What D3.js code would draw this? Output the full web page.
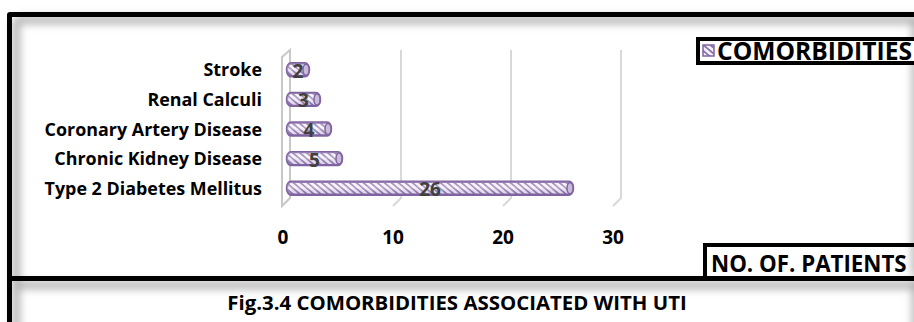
<!DOCTYPE html>
<html>
<head>
<meta charset="utf-8">
<script src="https://cdn.jsdelivr.net/npm/d3@7"></script>
<style>
  html, body { margin: 0; padding: 0; background: #fff; }
  svg { display: block; }
  text { font-family: "Open Sans", Lato, sans-serif; font-weight: bold; }
</style>
</head>
<body>
<svg id="chart" width="914" height="322"></svg>
<script>
// Comorbidities among UTI patients
const categories = ["Stroke", "Renal Calculi", "Coronary Artery Disease", "Chronic Kidney Disease", "Type 2 Diabetes Mellitus"];
const patients = [2, 3, 4, 5, 26];
const xTicks = [0, 10, 20, 30];
const seriesName = "COMORBIDITIES";
const axisTitle = "NO. OF. PATIENTS";
const caption = "Fig.3.4 COMORBIDITIES ASSOCIATED WITH UTI";

const W = 914, H = 322;
const purple = "#8064a2";
const svg = d3.select("#chart");
const defs = svg.append("defs");

// diagonal hatch used for the bars and the legend key
const pat = defs.append("pattern")
  .attr("id", "hatch").attr("patternUnits", "userSpaceOnUse")
  .attr("width", 4.5).attr("height", 4.5)
  .attr("patternTransform", "rotate(40)");
pat.append("rect").attr("width", 4.5).attr("height", 4.5).attr("fill", "#f4f0f9");
pat.append("rect").attr("width", 4.5).attr("height", 1.8).attr("fill", "#8d74ae");

// cylinder shading laid over the hatch
const cyl = defs.append("linearGradient").attr("id", "cyl").attr("x1", 0).attr("x2", 0).attr("y1", 0).attr("y2", 1);
cyl.append("stop").attr("offset", "0%").attr("stop-color", "#ffffff").attr("stop-opacity", 0.15);
cyl.append("stop").attr("offset", "45%").attr("stop-color", "#ffffff").attr("stop-opacity", 0.35);
cyl.append("stop").attr("offset", "100%").attr("stop-color", "#6a4f8f").attr("stop-opacity", 0.15);

defs.append("filter").attr("id", "soft").attr("x", "-20%").attr("y", "-20%").attr("width", "140%").attr("height", "140%")
  .append("feGaussianBlur").attr("stdDeviation", 4);

// soft grey shading inside the black frame lines
const shade = svg.append("g").attr("filter", "url(#soft)").attr("stroke", "#a8a8a8").attr("stroke-width", 7).attr("fill", "none");
shade.append("line").attr("x1", 16).attr("x2", W + 10).attr("y1", 20).attr("y2", 20);
shade.append("line").attr("x1", 16).attr("x2", 16).attr("y1", 20).attr("y2", H + 10);
shade.append("line").attr("x1", 16).attr("x2", W + 10).attr("y1", 285).attr("y2", 285);
shade.append("line").attr("x1", W + 2).attr("x2", W + 2).attr("y1", 280).attr("y2", H + 10);
shade.append("line").attr("x1", W + 2).attr("x2", W + 2).attr("y1", 18).attr("y2", 275);

// scales
const x = d3.scaleLinear().domain([0, 30]).range([283, 613]);
const y = d3.scaleBand().domain(categories).range([55, 203]);
const depth = 8;       // back-wall offset of the 3D plot area
const floorY = 206;

// back-wall gridlines with their floor returns
const grid = svg.append("g").attr("stroke", "#d9d9d9").attr("stroke-width", 2).attr("fill", "none");
xTicks.slice(1).forEach(t => {
  grid.append("path").attr("d", `M${x(t) + depth},${50} L${x(t) + depth},${floorY - depth} L${x(t)},${floorY}`);
});
// left side wall
grid.append("path").attr("stroke", "#c8c8c8")
  .attr("d", `M${x(0) - 1},${57} L${x(0) + depth - 1},${50} L${x(0) + depth - 1},${floorY - depth} L${x(0) - 1},${floorY} Z`)
  .attr("fill", "#ffffff");

// cylinder bars
const bh = 13, off = depth / 2;
const bars = svg.append("g");
categories.forEach((c, i) => {
  const cy = y(c) + y.bandwidth() / 2;
  const x0 = x(0) + off, x1 = x(patients[i]) + off;
  bars.append("rect")
    .attr("x", x0).attr("y", cy - bh / 2)
    .attr("width", x1 - x0).attr("height", bh)
    .attr("rx", 4).attr("ry", 6)
    .attr("fill", "url(#hatch)")
    .attr("stroke", purple).attr("stroke-width", 2.4);
  bars.append("rect")
    .attr("x", x0).attr("y", cy - bh / 2)
    .attr("width", x1 - x0).attr("height", bh)
    .attr("rx", 4).attr("ry", 6)
    .attr("fill", "url(#cyl)");
  bars.append("ellipse")
    .attr("cx", x1 - 3).attr("cy", cy).attr("rx", 3).attr("ry", bh / 2 - 1)
    .attr("fill", "#c9bcd9").attr("stroke", purple).attr("stroke-width", 1.5);
  bars.append("text")
    .attr("x", (x0 + x1) / 2).attr("y", cy + 8)
    .attr("text-anchor", "middle").attr("font-size", 19).attr("fill", "#404040")
    .text(patients[i]);
});

// category labels
svg.append("g").selectAll("text").data(categories).join("text")
  .attr("x", 262).attr("y", d => y(d) + y.bandwidth() / 2 + 6.5)
  .attr("text-anchor", "end").attr("font-size", 17.9).attr("fill", "#000")
  .text(d => d);

// value axis labels
svg.append("g").selectAll("text").data(xTicks).join("text")
  .attr("x", d => x(d)).attr("y", 244)
  .attr("text-anchor", "middle").attr("font-size", 19).attr("fill", "#000")
  .text(d => d);

// frame lines
const frame = svg.append("g").attr("fill", "#000");
frame.append("path").attr("d", `M7,${H} L7,15 Q7,12 10,12 L${W},12 L${W},17 L12,17 L12,${H} Z`);
frame.append("rect").attr("x", 7).attr("y", 276).attr("width", W - 7).attr("height", 5);

// legend box
const lg = svg.append("g");
lg.append("path").attr("d", `M${W + 5},39 L698,39 L698,63 L${W + 5},63`)
  .attr("fill", "#fff").attr("stroke", "#000").attr("stroke-width", 4);
lg.append("rect").attr("x", 703).attr("y", 45).attr("width", 11).attr("height", 11)
  .attr("fill", "url(#hatch)").attr("stroke", purple).attr("stroke-width", 1.5);
lg.append("text").attr("x", 717).attr("y", 59.5).attr("font-size", 24.6).attr("fill", "#000").text(seriesName);

// axis title box
const at = svg.append("g");
at.append("path").attr("d", `M705,278 L705,245 L${W + 5},245`)
  .attr("fill", "none").attr("stroke", "#000").attr("stroke-width", 4);
at.append("text").attr("x", 711).attr("y", 272).attr("font-size", 22.3).attr("fill", "#000").text(axisTitle);

// caption
svg.append("text").attr("x", 457).attr("y", 310).attr("text-anchor", "middle")
  .attr("font-size", 20.4).attr("fill", "#000").text(caption);
</script>
</body>
</html>
